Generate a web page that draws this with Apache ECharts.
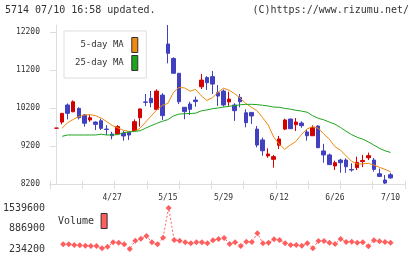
<!DOCTYPE html>
<html><head><meta charset="utf-8">
<script src="https://cdn.jsdelivr.net/npm/echarts@6/dist/echarts.min.js"></script>
<style>html,body{margin:0;padding:0;background:#fff}#c{width:420px;height:259px}</style>
</head><body><div id="c"></div>
<script>
const dates = ['4/13','4/14','4/15','4/16','4/17','4/20','4/21','4/22','4/23','4/24',
  '4/27','4/28','4/30','5/1','5/7','5/8','5/11','5/12','5/13','5/14',
  '5/15','5/18','5/19','5/20','5/21','5/22','5/25','5/26','5/27','5/28',
  '5/29','6/1','6/2','6/3','6/4','6/5','6/8','6/9','6/10','6/11',
  '6/12','6/15','6/16','6/17','6/18','6/19','6/22','6/23','6/24','6/25',
  '6/26','6/29','6/30','7/1','7/2','7/3','7/6','7/7','7/8','7/9','7/10'];
const opens  = [9670,9830,10280,10100,10190,10015,9885,9830,9865,9645,
  9515,9515,9535,9560,9605,9945,10360,10455,10165,10540,
  11885,11505,11115,10220,10305,10410,10760,11000,11025,10605,
  10645,10360,10280,10480,10075,10085,9645,9360,8940,8850,
  9220,9645,9910,9760,9805,9570,9470,9725,9070,8965,
  8675,8830,8830,8580,8630,8790,8890,8830,8470,8305,8445];
const closes = [9670,10060,10060,10365,9945,9800,9945,9770,9665,9635,
  9470,9710,9465,9490,9840,10175,10350,10340,10645,10000,
  11640,11115,10365,10105,10165,10370,10935,10865,10830,10515,
  10280,10435,10130,10365,9815,9990,9225,9075,8990,8920,
  9385,9885,9655,9830,9735,9470,9680,9155,8965,8710,
  8760,8760,8655,8570,8770,8820,8945,8585,8400,8225,8360];
const lows   = [9670,9770,9900,10100,9900,9710,9840,9620,9620,9490,
  9375,9510,9340,9360,9600,9710,10250,10220,10160,9885,
  11375,11110,10305,9905,10015,10235,10700,10675,10570,10255,
  10235,10255,9860,10220,9690,9780,9165,8945,8890,8630,
  9120,9620,9650,9595,9680,9340,9470,9150,8760,8700,
  8570,8495,8495,8525,8570,8645,8830,8525,8390,8200,8340];
const highs  = [9670,10070,10320,10400,10220,10040,10015,9850,9920,9750,
  9575,9750,9595,9575,9900,10190,10570,10650,10690,10590,
  12385,11535,11120,10220,10365,10500,11095,11040,11175,10805,
  10690,10630,10325,10570,10165,10090,9725,9420,9140,8965,
  9465,9920,9920,9935,9850,9620,9745,9745,9255,9000,
  8815,8865,8875,8745,8920,8965,9025,8885,8605,8435,8495];
const ma5 = [null,9670,9815,9900,9975,10015,10025,10000,9935,9845,
  9740,9680,9615,9585,9580,9665,9830,9990,10150,10270,
  10320,10610,10740,10730,10645,10690,10520,10400,10470,10615,
  10720,10670,10575,10460,10320,10220,10130,9950,9760,9440,
  9250,9115,9225,9320,9500,9650,9710,9670,9520,9380,
  9185,9090,8945,8800,8725,8730,8745,8700,8640,8585,8520];
const ma25 = [null,9455,9490,9490,9490,9490,9490,9490,9510,9490,
  9490,9500,9550,9570,9585,9600,9670,9735,9795,9850,
  9895,9990,10040,10050,10055,10065,10125,10150,10180,10200,
  10225,10245,10265,10285,10297,10297,10290,10272,10255,10225,
  10220,10190,10170,10140,10120,10090,10000,9930,9890,9830,
  9775,9690,9590,9500,9430,9380,9310,9225,9140,9075,9030];
const volume = [null,384000,384000,362000,350000,340000,330000,330000,260000,308000,
  447000,436000,384000,234200,500000,562000,648000,447000,384000,594000,
  1539600,521000,500000,447000,416000,447000,446000,415000,510000,553000,
  584000,393000,447000,330000,468000,457000,733000,415000,436000,542000,
  521000,415000,362000,362000,340000,415000,255000,489000,489000,436000,
  393000,552000,457000,468000,436000,446000,319000,510000,478000,457000,436000];
const priceTicks = [8200,9200,10200,11200,12200];
const labelIdx = [10,20,30,40,50,60];

const MONO = 'DejaVu Sans Mono';
const AX = '#dddddd';
const TXT = '#333333';
const candle = dates.map((d,i)=>[i, opens[i], closes[i], lows[i], highs[i]]);
const pts = arr => arr.map((v,i)=> v==null ? null : [i,v]).filter(Boolean);
const plain = v => String(Math.round(v));

const chart = echarts.init(document.getElementById('c'));
chart.setOption({
  animation:false,
  backgroundColor:'#fff',
  title:[
    {text:'5714 07/10 16:58 updated.', left:5, top:5, padding:0,
     textStyle:{fontFamily:MONO,fontSize:10,fontWeight:'normal',color:TXT}},
    {text:'(C)https://www.rizumu.net/', right:11, top:5, padding:0,
     textStyle:{fontFamily:MONO,fontSize:10,fontWeight:'normal',color:TXT}}
  ],
  legend:[
    {data:['5-day MA','25-day MA'], orient:'vertical', align:'right', left:64, top:31,
     padding:[6,8,7,11], itemGap:2, itemWidth:6, itemHeight:15, icon:'rect',
     backgroundColor:'#fff', borderColor:'#dddddd', borderWidth:1, selectedMode:false,
     textStyle:{fontFamily:MONO,fontSize:9,color:TXT,padding:[0,3,0,0]},
     itemStyle:{borderColor:'#333',borderWidth:1}},
    {data:['Volume'], orient:'vertical', align:'right', left:58, top:213, padding:0,
     itemWidth:6, itemHeight:15, icon:'rect', selectedMode:false,
     textStyle:{fontFamily:MONO,fontSize:10,color:TXT,padding:[0,2,0,0]},
     itemStyle:{borderColor:'#333',borderWidth:1}}
  ],
  grid:[
    {left:50, width:355, top:25, height:159},
    {left:50, width:355, top:208, height:41}
  ],
  xAxis:[
    {type:'value', gridIndex:0, position:'bottom', min:-1.17, max:62.6,
     axisLine:{show:true,lineStyle:{color:AX}}, axisTick:{show:false}, splitLine:{show:false},
     axisLabel:{customValues:labelIdx, formatter:v=>dates[Math.round(v)], fontFamily:MONO, fontSize:8, color:TXT, margin:10}},
    {type:'value', gridIndex:0, position:'bottom', min:0, max:11, interval:1,
     axisLine:{show:false}, axisTick:{show:true,length:5,lineStyle:{color:AX}}, axisLabel:{show:false}, splitLine:{show:false}},
    {type:'value', gridIndex:0, position:'bottom', min:0, max:11, interval:1,
     axisLine:{show:false}, axisTick:{show:true,inside:true,length:3,lineStyle:{color:AX}}, axisLabel:{show:false}, splitLine:{show:false}},
    {type:'value', gridIndex:1, position:'bottom', min:-1.17, max:62.6, show:false}
  ],
  yAxis:[
    {type:'value', gridIndex:0, position:'left', min:8200, max:12385,
     axisLine:{show:true,lineStyle:{color:AX}}, splitLine:{show:false},
     axisTick:{show:true,length:5,customValues:priceTicks,lineStyle:{color:AX}},
     axisLabel:{customValues:priceTicks, formatter:plain, fontFamily:MONO, fontSize:8, color:TXT, margin:10}},
    {type:'value', gridIndex:0, position:'left', min:8200, max:12385,
     axisLine:{show:false}, splitLine:{show:false}, axisLabel:{show:false},
     axisTick:{show:true,inside:true,length:3,customValues:priceTicks,lineStyle:{color:AX}}},
    {type:'value', gridIndex:1, position:'left', min:234200, max:1539600, interval:652700,
     axisLine:{show:false}, axisTick:{show:false}, splitLine:{show:false},
     axisLabel:{formatter:plain, fontFamily:MONO, fontSize:10, color:TXT, margin:6}}
  ],
  series:[
    {name:'Price', type:'candlestick', xAxisIndex:0, yAxisIndex:0, data:candle,
     encode:{x:0,y:[1,2,3,4]}, barWidth:4, clip:false,
     itemStyle:{color:'#d40000',color0:'#4040c0',borderColor:'#d40000',borderColor0:'#4040c0',borderWidth:1}},
    {name:'5-day MA', type:'line', xAxisIndex:0, yAxisIndex:0, data:pts(ma5), symbol:'none',
     color:'#ee8a10', lineStyle:{width:1,color:'#ee8a10'}},
    {name:'25-day MA', type:'line', xAxisIndex:0, yAxisIndex:0, data:pts(ma25), symbol:'none',
     color:'#1ea51e', lineStyle:{width:1,color:'#1ea51e'}},
    {name:'Volume', type:'line', xAxisIndex:3, yAxisIndex:2, data:pts(volume),
     symbol:'diamond', symbolSize:6, color:'#ff5e5e',
     itemStyle:{color:'#ff5e5e'}, lineStyle:{width:1,color:'#ff5e5e',type:[2,2]}}
  ]
});
</script></body></html>
